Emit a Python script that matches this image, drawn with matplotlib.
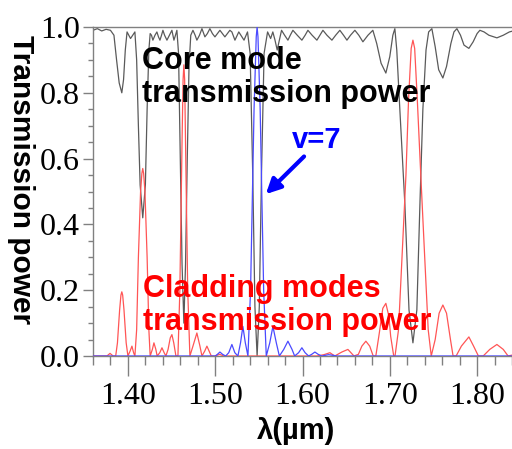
import matplotlib
matplotlib.use("Agg")
import matplotlib.pyplot as plt
from matplotlib.ticker import MultipleLocator, FormatStrFormatter

# 코어 모드 투과 파워 (검정)
core_wl = [1.360, 1.365, 1.370, 1.375, 1.380, 1.384, 1.387, 1.390, 1.393, 1.395,
           1.397, 1.399, 1.401, 1.403, 1.4055, 1.408, 1.410, 1.412, 1.414, 1.417,
           1.420, 1.422, 1.424, 1.4255, 1.427, 1.4286, 1.431, 1.4332, 1.435, 1.4367,
           1.4385, 1.4401, 1.442, 1.4447, 1.4475, 1.4504, 1.4527, 1.4545, 1.4561, 1.458,
           1.460, 1.462, 1.4641, 1.466, 1.468, 1.470, 1.472, 1.4745, 1.477, 1.479,
           1.482, 1.4848, 1.4882, 1.491, 1.4939, 1.4968, 1.4997, 1.5025, 1.5054, 1.5083,
           1.5111, 1.514, 1.5168, 1.5191, 1.5226, 1.527, 1.533, 1.537, 1.540, 1.543,
           1.5455, 1.548, 1.5505, 1.553, 1.556, 1.560, 1.5635, 1.566, 1.5685, 1.571,
           1.5735, 1.576, 1.5795, 1.5833, 1.586, 1.589, 1.594, 1.5993, 1.603, 1.6062,
           1.611, 1.6165, 1.620, 1.6234, 1.628, 1.6337, 1.638, 1.6428, 1.647, 1.6509,
           1.655, 1.660, 1.6645, 1.6692, 1.675, 1.6806, 1.685, 1.690, 1.6955, 1.700,
           1.7035, 1.7058, 1.708, 1.7115, 1.7173, 1.722, 1.7265, 1.731, 1.7345, 1.7379,
           1.7415, 1.7445, 1.7482, 1.752, 1.756, 1.7608, 1.765, 1.770, 1.7735, 1.7769,
           1.781, 1.785, 1.7906, 1.7955, 1.800, 1.8032, 1.808, 1.8135, 1.8227, 1.830,
           1.837, 1.844]
core_t = [0.990, 0.995, 0.988, 0.993, 0.990, 0.975, 0.90, 0.83, 0.80, 0.84,
          0.93, 0.985, 0.975, 0.965, 0.975, 0.985, 0.90, 0.70, 0.52, 0.42,
          0.52, 0.75, 0.93, 0.98, 0.975, 0.96, 0.975, 0.985, 0.97, 0.96,
          0.975, 0.99, 0.975, 0.96, 0.975, 0.99, 0.96, 0.975, 0.99, 0.92,
          0.60, 0.28, 0.10, 0.28, 0.60, 0.88, 0.975, 0.99, 0.975, 0.96,
          0.975, 0.995, 0.97, 0.98, 0.995, 0.98, 0.97, 0.98, 0.99, 0.98,
          0.97, 0.98, 0.99, 0.985, 0.96, 0.985, 0.96, 0.985, 0.92, 0.55,
          0.15, 0.0, 0.15, 0.55, 0.92, 0.985, 0.965, 0.985, 0.96, 0.93,
          0.96, 0.99, 0.975, 0.96, 0.975, 0.99, 0.975, 0.96, 0.975, 0.99,
          0.975, 0.96, 0.975, 0.99, 0.975, 0.96, 0.975, 0.99, 0.975, 0.96,
          0.975, 0.99, 0.975, 0.955, 0.975, 0.99, 0.95, 0.89, 0.86, 0.91,
          0.975, 0.995, 0.93, 0.75, 0.46, 0.14, 0.04, 0.14, 0.46, 0.75,
          0.93, 0.985, 0.995, 0.94, 0.87, 0.845, 0.88, 0.95, 0.985, 0.995,
          0.975, 0.945, 0.935, 0.955, 0.98, 0.99, 0.985, 0.975, 0.967, 0.975,
          0.985, 0.99]

# 클래딩 모드 투과 파워 (빨강)
clad_wl = [1.360, 1.376, 1.3795, 1.383, 1.386, 1.388, 1.3905, 1.392, 1.393, 1.394,
           1.3955, 1.398, 1.400, 1.4025, 1.4046, 1.4065, 1.408, 1.410, 1.412, 1.4145,
           1.416, 1.417, 1.418, 1.4195, 1.422, 1.424, 1.4255, 1.428, 1.4298, 1.432,
           1.4335, 1.4365, 1.439, 1.4415, 1.4435, 1.446, 1.4485, 1.4504, 1.4525, 1.455,
           1.4573, 1.4595, 1.462, 1.4632, 1.4641, 1.465, 1.466, 1.4685, 1.471, 1.4745,
           1.479, 1.4825, 1.4848, 1.488, 1.4905, 1.493, 1.4955, 1.500, 1.505, 1.510,
           1.6165, 1.6245, 1.6314, 1.637, 1.645, 1.652, 1.659, 1.664, 1.668, 1.6726,
           1.677, 1.681, 1.684, 1.688, 1.692, 1.6955, 1.699, 1.701, 1.7045, 1.706,
           1.710, 1.714, 1.7185, 1.7215, 1.7245, 1.7265, 1.7285, 1.7315, 1.7355, 1.740,
           1.744, 1.7475, 1.752, 1.7565, 1.7608, 1.765, 1.7695, 1.7725, 1.776, 1.782,
           1.7906, 1.796, 1.8015, 1.807, 1.8145, 1.8227, 1.830, 1.8355, 1.844]
clad_t = [0.0, 0.0, 0.008, 0.0, 0.0, 0.04, 0.14, 0.185, 0.195, 0.185,
          0.14, 0.04, 0.0, 0.015, 0.03, 0.01, 0.0, 0.08, 0.30, 0.50,
          0.555, 0.57, 0.555, 0.50, 0.30, 0.08, 0.0, 0.02, 0.04, 0.02,
          0.0, 0.01, 0.025, 0.01, 0.0, 0.02, 0.055, 0.065, 0.04, 0.0,
          0.0, 0.20, 0.65, 0.84, 0.885, 0.84, 0.65, 0.20, 0.0, 0.03,
          0.07, 0.03, 0.0, 0.015, 0.03, 0.015, 0.0, 0.0, 0.005, 0.0,
          0.0, 0.004, 0.01, 0.0, 0.012, 0.02, 0.0, 0.005, 0.03, 0.045,
          0.03, 0.0, 0.0, 0.07, 0.145, 0.16, 0.12, 0.06, 0.0, 0.0,
          0.08, 0.30, 0.55, 0.78, 0.935, 0.96, 0.935, 0.78, 0.55, 0.30,
          0.08, 0.0, 0.05, 0.13, 0.155, 0.13, 0.05, 0.0, 0.0, 0.03,
          0.058, 0.03, 0.0, 0.0, 0.02, 0.035, 0.02, 0.0, 0.005]

# v=7 클래딩 모드 (파랑)
v7_wl = [1.360, 1.500, 1.5025, 1.5054, 1.5085, 1.512, 1.5155, 1.5191, 1.5225, 1.526,
         1.529, 1.5317, 1.5345, 1.5375, 1.5405, 1.5445, 1.547, 1.548, 1.549, 1.5515,
         1.5555, 1.5585, 1.5625, 1.5661, 1.570, 1.5735, 1.5785, 1.5833, 1.588, 1.591,
         1.5955, 1.5993, 1.603, 1.607, 1.6105, 1.6142, 1.618, 1.622, 1.630, 1.640,
         1.844]
v7_t = [0.0, 0.0, 0.005, 0.012, 0.005, 0.0, 0.01, 0.035, 0.01, 0.0,
        0.04, 0.09, 0.04, 0.0, 0.2, 0.75, 0.97, 1.0, 0.97, 0.75,
        0.2, 0.0, 0.04, 0.09, 0.04, 0.0, 0.02, 0.045, 0.02, 0.0,
        0.01, 0.025, 0.01, 0.0, 0.005, 0.012, 0.005, 0.0, 0.004, 0.0,
        0.0]

x_ticks = [1.40, 1.50, 1.60, 1.70, 1.80]

fig = plt.figure(figsize=(5.12, 4.49), dpi=100)
ax = fig.add_axes([93 / 512, 1 - 356 / 449, 419 / 512, 329 / 449])

ax.plot(core_wl, core_t, color="#5a5a5a", lw=0.9, zorder=2, solid_joinstyle="round")
ax.plot(clad_wl, clad_t, color="#ff5555", lw=0.9, zorder=3, solid_joinstyle="round")
ax.plot(v7_wl, v7_t, color="#4a4aff", lw=0.9, zorder=4, solid_joinstyle="round")

ax.set_xlim(1.36, 1.84)
ax.set_ylim(0, 1.0)
ax.set_xticks(x_ticks)
ax.xaxis.set_minor_locator(MultipleLocator(0.02))
ax.yaxis.set_major_locator(MultipleLocator(0.2))
ax.yaxis.set_minor_locator(MultipleLocator(0.05))
ax.xaxis.set_major_formatter(FormatStrFormatter("%.2f"))
ax.yaxis.set_major_formatter(FormatStrFormatter("%.1f"))

for lab in ax.get_xticklabels() + ax.get_yticklabels():
    lab.set_fontfamily("Liberation Serif")
    lab.set_fontsize(23)

gray = "#808080"
ax.tick_params(axis="y", which="major", length=7.5, width=1, color=gray, pad=2)
ax.tick_params(axis="y", which="minor", length=3.8, width=1, color=gray)
ax.tick_params(axis="x", which="major", length=14.5, width=1, color=gray, pad=4)
ax.tick_params(axis="x", which="minor", length=6.5, width=1, color=gray)
for s in ["left", "bottom", "top"]:
    ax.spines[s].set_color(gray)
    ax.spines[s].set_linewidth(1)
ax.spines["right"].set_visible(False)

# 축 제목
fig.text(21 / 512, 1 - 180 / 449, "Transmission power", rotation=270,
         ha="center", va="center", fontsize=21.5, fontweight="bold",
         family="Liberation Sans")
fig.text(296 / 512, 1 - 431 / 449, "λ(µm)", ha="center", va="center",
         fontsize=21, fontweight="bold", family="Liberation Sans")

# 주석 텍스트
ax.text(1.416, 0.942, "Core mode\ntransmission power", ha="left", va="top",
        fontsize=22, fontweight="bold", family="Liberation Sans",
        color="black", linespacing=1.12, zorder=5)
ax.text(1.417, 0.250, "Cladding modes\ntransmission power", ha="left", va="top",
        fontsize=22, fontweight="bold", family="Liberation Sans",
        color="#ff0000", linespacing=1.12, zorder=5)
ax.annotate("v=7", xy=(1.558, 0.492), xytext=(1.588, 0.700),
            ha="left", va="top", fontsize=21, fontweight="bold",
            family="Liberation Sans", color="#0000ff", zorder=5,
            arrowprops=dict(arrowstyle="-|>", color="#0000ff", lw=3,
                            mutation_scale=22, shrinkA=0, shrinkB=0,
                            relpos=(0.3, 0.0)))

fig.savefig("out.png", dpi=100)
plt.close("all")
